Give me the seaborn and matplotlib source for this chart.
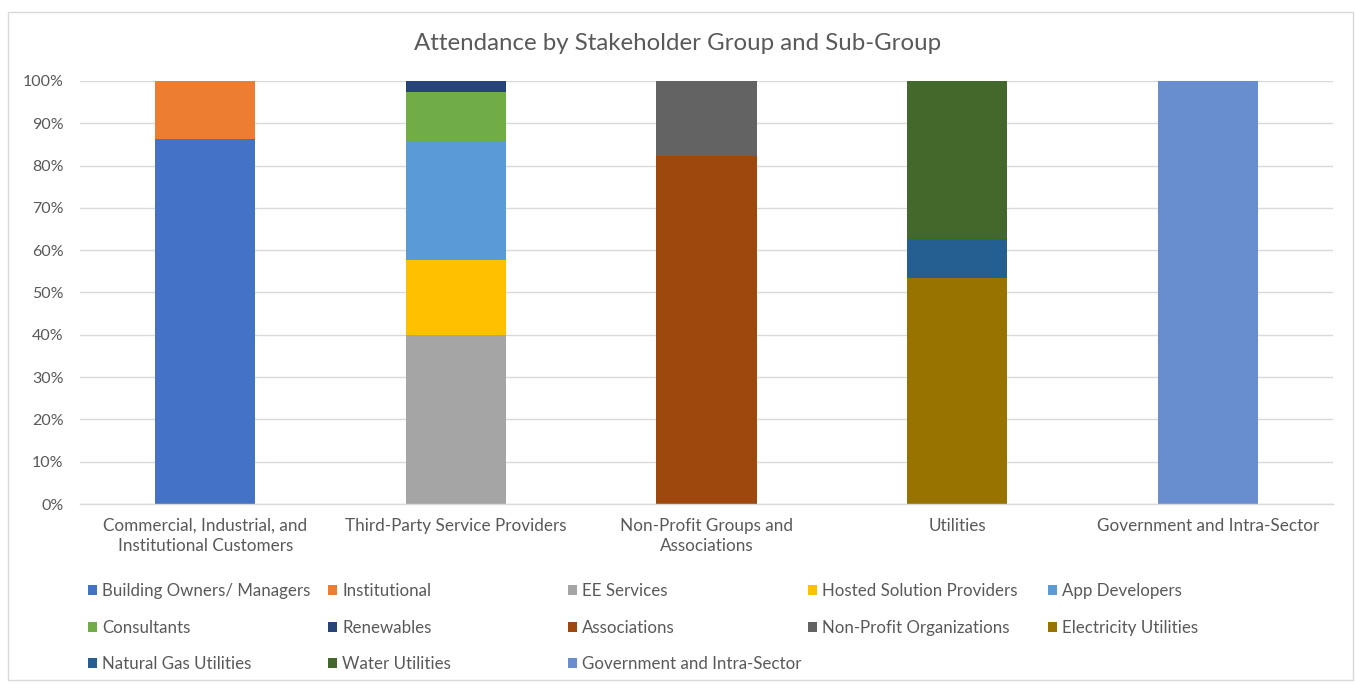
import matplotlib
matplotlib.use("Agg")
import matplotlib.pyplot as plt
from matplotlib.patches import Patch, Rectangle
import seaborn as sns
import numpy as np

# Stakeholder groups (x categories) and their tick labels
categories = [
    "Commercial, Industrial, and Institutional Customers",
    "Third-Party Service Providers",
    "Non-Profit Groups and Associations",
    "Utilities",
    "Government and Intra-Sector",
]
tick_labels = [
    "Commercial, Industrial, and\nInstitutional Customers",
    "Third-Party Service Providers",
    "Non-Profit Groups and\nAssociations",
    "Utilities",
    "Government and Intra-Sector",
]

# Sub-groups, the group each belongs to, and its share (%) of that group's attendance
subgroups = [
    "Building Owners/ Managers", "Institutional",
    "EE Services", "Hosted Solution Providers", "App Developers", "Consultants", "Renewables",
    "Associations", "Non-Profit Organizations",
    "Electricity Utilities", "Natural Gas Utilities", "Water Utilities",
    "Government and Intra-Sector",
]
subgroup_parent = [0, 0, 1, 1, 1, 1, 1, 2, 2, 3, 3, 3, 4]
subgroup_share = [86.2, 13.8, 40.0, 17.6, 28.3, 11.4, 2.7, 82.2, 17.8, 53.5, 9.1, 37.4, 100.0]

subgroup_colors = [
    "#4472C4", "#ED7D31",
    "#A5A5A5", "#FFC000", "#5B9BD5", "#70AD47", "#264478",
    "#9E480E", "#636363",
    "#997300", "#255E91", "#43682B",
    "#698ED0",
]

y_ticks = list(range(0, 101, 10))

sns.set_theme(style="white")
plt.rcParams["font.family"] = ["Lato", "DejaVu Sans"]
text_color = "#595959"

W, H = 1355, 685
fig = plt.figure(figsize=(W / 100, H / 100), dpi=100)
ax = fig.add_axes([80 / W, 1 - 504 / H, (1333 - 80) / W, (504 - 81) / H])

# Stack each sub-group on top of the previous ones within its group
running = np.zeros(len(categories))
for name, parent, share, color in zip(subgroups, subgroup_parent, subgroup_share, subgroup_colors):
    sns.barplot(
        x=[categories[parent]], y=[share], order=categories,
        bottom=running[parent], color=color, width=0.4,
        saturation=1, linewidth=0, ax=ax,
    )
    running[parent] += share

ax.set_xlim(-0.5, len(categories) - 0.5)
ax.set_ylim(0, 100)
ax.set_yticks(y_ticks)
ax.set_yticklabels([f"{v}%" for v in y_ticks])
ax.set_xticks(range(len(categories)))
ax.set_xticklabels(tick_labels, linespacing=1.3)
ax.set_xlabel("")
ax.set_ylabel("")
ax.tick_params(axis="both", length=0, colors=text_color)
ax.tick_params(axis="y", pad=12, labelsize=11.5)
ax.tick_params(axis="x", pad=10, labelsize=12.3)
ax.yaxis.grid(True, color="#D9D9D9", linewidth=1)
ax.set_axisbelow(True)
for side in ["top", "right", "left"]:
    ax.spines[side].set_visible(False)
ax.spines["bottom"].set_color("#D9D9D9")
ax.spines["bottom"].set_linewidth(1)

fig.text(0.5, 1 - 44 / H, "Attendance by Stakeholder Group and Sub-Group",
         ha="center", va="center", fontsize=17.3, color=text_color)

# Legend: five equal-width columns, entries read row by row
ncol = 5
col_x = [88, 328, 568, 808, 1048]
for col in range(ncol):
    idx = list(range(col, len(subgroups), ncol))
    leg = fig.legend(
        [Patch(facecolor=subgroup_colors[i], edgecolor="none") for i in idx],
        [subgroups[i] for i in idx],
        loc="upper left", bbox_to_anchor=(col_x[col] / W, 1 - 583 / H),
        frameon=False, fontsize=12.2, handlelength=0.55, handleheight=0.55,
        handletextpad=0.3, labelspacing=1.22, borderaxespad=0, borderpad=0,
    )
    for t in leg.get_texts():
        t.set_color(text_color)

# Light border around the chart area
fig.patches.append(Rectangle((8 / W, 1 - 680 / H), (1353 - 8) / W, (680 - 12) / H,
                             transform=fig.transFigure, fill=False,
                             edgecolor="#D9D9D9", linewidth=1))

fig.savefig("out.png", dpi=100)
